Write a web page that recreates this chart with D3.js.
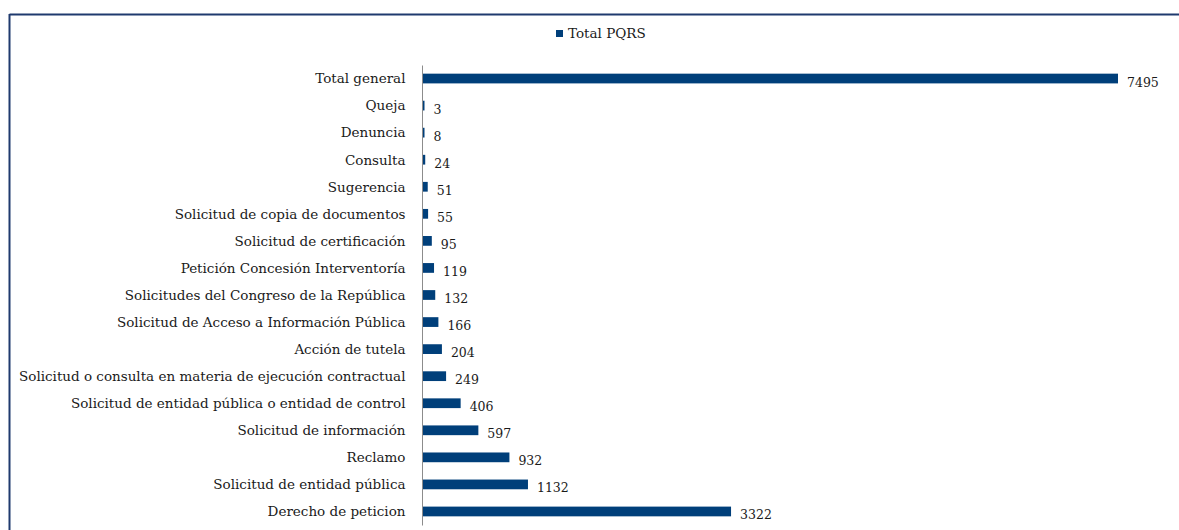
<!DOCTYPE html>
<html>
<head>
<meta charset="utf-8">
<script src="https://cdn.jsdelivr.net/npm/d3@7"></script>
<style>
  html, body { margin: 0; padding: 0; background: #fff; }
  svg { display: block; }
  text { font-family: "DejaVu Serif", "Liberation Serif", serif; fill: #1a1a1a; }
</style>
</head>
<body>
<svg id="chart" width="1179" height="530"></svg>
<script>
// PQRS requests by type, top to bottom as listed
const categories = [
  "Total general",
  "Queja",
  "Denuncia",
  "Consulta",
  "Sugerencia",
  "Solicitud de copia de documentos",
  "Solicitud de certificación",
  "Petición Concesión Interventoría",
  "Solicitudes del Congreso de la República",
  "Solicitud de Acceso a Información Pública",
  "Acción de tutela",
  "Solicitud o consulta en materia de ejecución contractual",
  "Solicitud de entidad pública o entidad de control",
  "Solicitud de información",
  "Reclamo",
  "Solicitud de entidad pública",
  "Derecho de peticion"
];
const totals = [7495, 3, 8, 24, 51, 55, 95, 119, 132, 166, 204, 249, 406, 597, 932, 1132, 3322];
const seriesName = "Total PQRS";

const svg = d3.select("#chart");
const barColor = "#003f7a";
const frameColor = "#1f3a6e";

// outer frame (top and left edges visible)
svg.append("line").attr("x1", 9.5).attr("x2", 1179).attr("y1", 14.5).attr("y2", 14.5)
  .attr("stroke", frameColor).attr("stroke-width", 2);
svg.append("line").attr("x1", 9.5).attr("x2", 9.5).attr("y1", 14).attr("y2", 530)
  .attr("stroke", frameColor).attr("stroke-width", 2);

const x0 = 423;
const x = d3.scaleLinear().domain([0, 7495]).range([x0, 1118]);
const y = d3.scaleBand().domain(categories).range([65, 525]).paddingInner(0.64).paddingOuter(0.32);

// legend
const legend = svg.append("g").attr("transform", "translate(556,30)");
legend.append("rect").attr("width", 7).attr("height", 7).attr("fill", barColor);
legend.append("text").attr("x", 12).attr("y", 8).style("font-size", "13.5px").text(seriesName);

// bars
svg.append("g").selectAll("rect").data(totals).join("rect")
  .attr("x", x0)
  .attr("y", (d, i) => y(categories[i]))
  .attr("width", d => Math.max(1.5, x(d) - x0))
  .attr("height", y.bandwidth())
  .attr("fill", barColor);

// category axis
const axis = svg.append("g").attr("transform", `translate(${x0 - 0.5},0.5)`)
  .call(d3.axisLeft(y).tickSize(0).tickPadding(17));
axis.select(".domain").attr("stroke", "#8c8c8c").attr("d", "M0,65V525");
axis.selectAll("text").style("font-size", "13.5px").attr("fill", "#1a1a1a");

// value labels
svg.append("g").selectAll("text").data(totals).join("text")
  .attr("x", d => Math.max(x(d), x0 + 1.5) + 9)
  .attr("y", (d, i) => y(categories[i]) + y.bandwidth() / 2 + 8)
  .style("font-size", "12.5px")
  .text(d => d);
</script>
</body>
</html>
